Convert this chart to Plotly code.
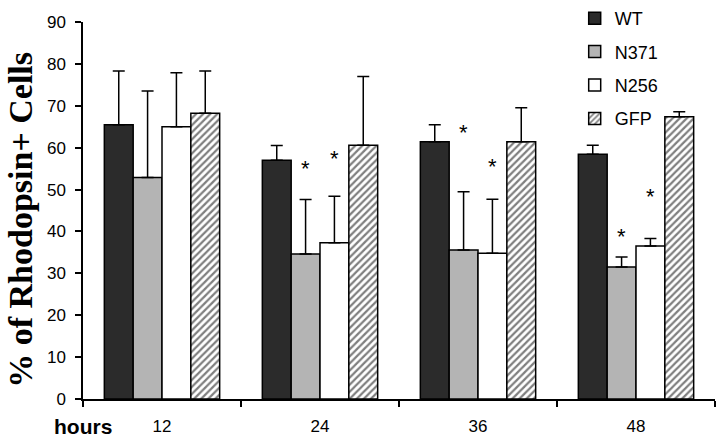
import plotly.graph_objects as go

hours = ["12", "24", "36", "48"]
series_names = ["WT", "N371", "N256", "GFP"]
wt = [65.5, 57.0, 61.4, 58.4]
wt_err = [12.8, 3.5, 4.1, 2.2]
n371 = [52.9, 34.6, 35.6, 31.5]
n371_err = [20.6, 13.0, 13.9, 2.4]
n256 = [65.0, 37.3, 34.8, 36.5]
n256_err = [12.9, 11.1, 12.9, 1.8]
gfp = [68.2, 60.6, 61.4, 67.4]
gfp_err = [10.1, 16.4, 8.1, 1.2]

# significance stars: (hour, series index, y value)
star_hours = ["24", "24", "36", "36", "48", "48"]
star_series = [1, 2, 1, 2, 1, 2]
star_y = [55.4, 57.8, 64.0, 56.1, 39.2, 48.9]

values = [wt, n371, n256, gfp]
errors = [wt_err, n371_err, n256_err, gfp_err]
fills = ["#2b2b2b", "#b4b4b4", "#ffffff", "#ffffff"]

SANS = "Liberation Sans, Arial, sans-serif"
SERIF = "Liberation Serif, Times New Roman, serif"

fig = go.Figure()
for i, name in enumerate(series_names):
    marker = dict(color=fills[i], line=dict(color="black", width=1.5))
    if name == "GFP":
        marker["pattern"] = dict(shape="/", fgcolor="black", bgcolor="white",
                                 size=5, solidity=0.45)
    fig.add_trace(go.Bar(
        x=hours, y=values[i], name=name, marker=marker,
        legendgroup=name,
        error_y=dict(type="data", symmetric=False, array=errors[i],
                     arrayminus=[0] * len(hours), color="black",
                     thickness=1.5, width=6),
    ))

W, H = 720, 441
mb = 42
paper_h = H - mb
plot_top_px = 22
plot_w = W - 83 - 5
cat_px = plot_w / len(hours)
bar_px = cat_px * (1 - 0.27) / 4
for h, s, yv in zip(star_hours, star_series, star_y):
    fig.add_annotation(x=hours.index(h), y=yv, xref="x", yref="y", text="*",
                       showarrow=False, xshift=(s - 1.5) * bar_px, yshift=-2,
                       font=dict(family=SANS, size=22, color="black"))

fig.add_annotation(xref="paper", yref="paper", x=-0.1,
                   y=(paper_h - 220) / paper_h,
                   text="<b>% of Rhodopsin+ Cells</b>", textangle=-90,
                   showarrow=False, xanchor="center", yanchor="middle",
                   font=dict(family=SERIF, size=34, color="black"))
fig.add_annotation(xref="paper", yref="paper", x=0.0,
                   y=(paper_h - 426) / paper_h,
                   text="<b>hours</b>", showarrow=False,
                   xanchor="center", yanchor="middle",
                   font=dict(family=SANS, size=21, color="black"))

fig.update_layout(
    width=W, height=H,
    margin=dict(l=83, r=5, t=0, b=mb, autoexpand=False),
    paper_bgcolor="white", plot_bgcolor="white",
    barmode="group", bargap=0.27, bargroupgap=0,
    font=dict(family=SANS, size=17, color="black"),
    legend=dict(x=0.778, y=1.0, xanchor="left", yanchor="top",
                bgcolor="rgba(0,0,0,0)", tracegroupgap=7,
                font=dict(family=SANS, size=18, color="black")),
    showlegend=True,
)
fig.update_xaxes(type="category", categoryorder="array", categoryarray=hours,
                 range=[-0.5, len(hours) - 0.5], automargin=False,
                 showline=True, linecolor="black", linewidth=1.5,
                 ticks="outside", ticklen=6, tickwidth=1.5, tickcolor="black",
                 tickson="boundaries", showgrid=False, zeroline=False,
                 ticklabelstandoff=11)
fig.update_yaxes(range=[0, 90], dtick=10, showline=True, linecolor="black",
                 linewidth=1.5, ticks="outside", ticklen=6, tickwidth=1.5,
                 tickcolor="black", showgrid=False, zeroline=False,
                 ticklabelstandoff=6, automargin=False,
                 domain=[0, (paper_h - plot_top_px) / paper_h])

fig.write_html("out.html", config={"displayModeBar": False},
               post_script="document.body.style.margin='0';")
